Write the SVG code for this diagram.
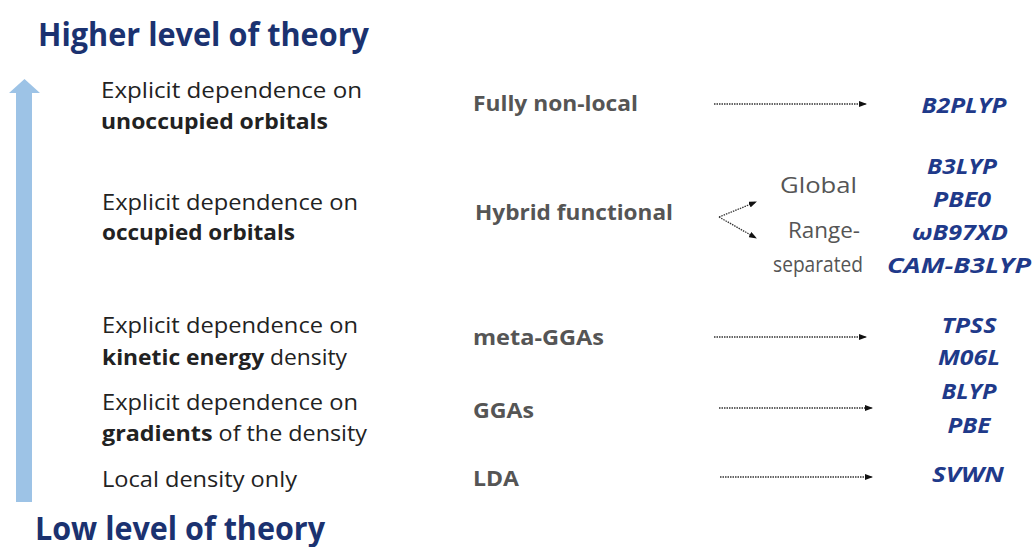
<svg xmlns="http://www.w3.org/2000/svg" width="1034" height="547" viewBox="0 0 1034 547">
<style>
.title{font-family:"Open Sans","Liberation Sans",sans-serif;font-weight:bold;font-size:32px;fill:#1b3270}
.desc{font-family:"Open Sans","Liberation Sans",sans-serif;font-size:21px;fill:#222}
.b{font-weight:bold}
.mid{font-family:"Open Sans","Liberation Sans",sans-serif;font-weight:bold;font-size:21px;fill:#555}
.sub{font-family:"Open Sans","Liberation Sans",sans-serif;font-size:21px;fill:#555}
.fn{font-family:"Open Sans","Liberation Sans",sans-serif;font-weight:bold;font-style:italic;font-size:22px;fill:#1f3a8a;text-anchor:middle}
.con{stroke:#333;stroke-width:1.3;stroke-dasharray:1.5 1;fill:none;marker-end:url(#ah)}
</style>
<defs>
<marker id="ah" markerWidth="8" markerHeight="6" refX="7" refY="3" orient="auto" markerUnits="userSpaceOnUse">
<path d="M0,0 L8,3 L0,6 Z" fill="#111"/>
</marker>
</defs>
<rect width="1034" height="547" fill="#fff"/>
<g id="axis">
<path d="M16,502 L16,93 L9,93 L24.5,79 L40,93 L32,93 L32,502 Z" fill="#9dc3e6"/>
<text class="title" x="38" y="46" textLength="331" lengthAdjust="spacingAndGlyphs">Higher level of theory</text>
<text class="title" x="35" y="540" textLength="290" lengthAdjust="spacingAndGlyphs">Low level of theory</text>
</g>
<g id="row-nonlocal">
<text class="desc" x="101" y="98" textLength="261" lengthAdjust="spacingAndGlyphs">Explicit dependence on</text>
<text class="desc b" x="101" y="129" textLength="227" lengthAdjust="spacingAndGlyphs">unoccupied orbitals</text>
<text class="mid" x="473" y="111" textLength="165" lengthAdjust="spacingAndGlyphs">Fully non-local</text>
<text class="fn" x="964" y="113" textLength="85" lengthAdjust="spacingAndGlyphs">B2PLYP</text>
</g>
<g id="row-hybrid">
<text class="desc" x="102" y="210" textLength="256" lengthAdjust="spacingAndGlyphs">Explicit dependence on</text>
<text class="desc b" x="102" y="240" textLength="193" lengthAdjust="spacingAndGlyphs">occupied orbitals</text>
<text class="mid" x="475" y="220" textLength="198" lengthAdjust="spacingAndGlyphs">Hybrid functional</text>
<text class="sub" x="780" y="193" textLength="77" lengthAdjust="spacingAndGlyphs">Global</text>
<text class="sub" x="788" y="238" textLength="72" lengthAdjust="spacingAndGlyphs">Range-</text>
<text class="sub" x="773" y="272" textLength="90" lengthAdjust="spacingAndGlyphs">separated</text>
<text class="fn" x="962" y="174" textLength="70" lengthAdjust="spacingAndGlyphs">B3LYP</text>
<text class="fn" x="962" y="207" textLength="58" lengthAdjust="spacingAndGlyphs">PBE0</text>
<text class="fn" x="960" y="240" textLength="96" lengthAdjust="spacingAndGlyphs">ωB97XD</text>
<text class="fn" x="959" y="273" textLength="144" lengthAdjust="spacingAndGlyphs">CAM-B3LYP</text>
</g>
<g id="row-meta">
<text class="desc" x="102" y="333" textLength="256" lengthAdjust="spacingAndGlyphs">Explicit dependence on</text>
<text class="desc" x="102" y="365" textLength="245" lengthAdjust="spacingAndGlyphs"><tspan class="b">kinetic energy</tspan> density</text>
<text class="mid" x="473" y="345" textLength="131" lengthAdjust="spacingAndGlyphs">meta-GGAs</text>
<text class="fn" x="969" y="333" textLength="55" lengthAdjust="spacingAndGlyphs">TPSS</text>
<text class="fn" x="969" y="365" textLength="62" lengthAdjust="spacingAndGlyphs">M06L</text>
</g>
<g id="row-gga">
<text class="desc" x="102" y="410" textLength="256" lengthAdjust="spacingAndGlyphs">Explicit dependence on</text>
<text class="desc" x="102" y="441" textLength="265" lengthAdjust="spacingAndGlyphs"><tspan class="b">gradients</tspan> of the density</text>
<text class="mid" x="473" y="418" textLength="61" lengthAdjust="spacingAndGlyphs">GGAs</text>
<text class="fn" x="969" y="399" textLength="55" lengthAdjust="spacingAndGlyphs">BLYP</text>
<text class="fn" x="969" y="433" textLength="43" lengthAdjust="spacingAndGlyphs">PBE</text>
</g>
<g id="row-lda">
<text class="desc" x="102" y="487" textLength="195" lengthAdjust="spacingAndGlyphs">Local density only</text>
<text class="mid" x="473" y="486" textLength="46" lengthAdjust="spacingAndGlyphs">LDA</text>
<text class="fn" x="968" y="482" textLength="72" lengthAdjust="spacingAndGlyphs">SVWN</text>
</g>
<g id="connectors">
<line class="con" x1="714" y1="104" x2="866" y2="104"/>
<line class="con" x1="719" y1="217" x2="756" y2="202"/>
<line class="con" x1="719" y1="217" x2="756" y2="238"/>
<line class="con" x1="714" y1="337" x2="866" y2="337"/>
<line class="con" x1="719" y1="408" x2="872" y2="408"/>
<line class="con" x1="720" y1="477" x2="872" y2="477"/>
</g>
</svg>
